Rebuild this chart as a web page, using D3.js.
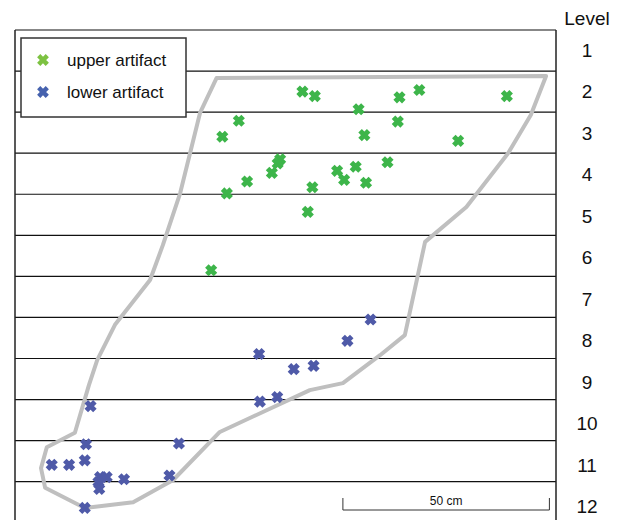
<!DOCTYPE html>
<html>
<head>
<meta charset="utf-8">
<script src="https://cdn.jsdelivr.net/npm/d3@7"></script>
<style>
  html, body { margin: 0; padding: 0; background: #fff; }
  svg { display: block; font-family: "Liberation Sans", Arial, Helvetica, sans-serif; }
</style>
</head>
<body>
<svg id="chart" width="623" height="520"></svg>
<script>
// ---- data (x in cm from the left frame edge, y in level units from top) ----
const levels = [1, 2, 3, 4, 5, 6, 7, 8, 9, 10, 11, 12];
const seriesNames = ["upper artifact", "lower artifact"];

const upperX = [69.6, 72.6, 54.2, 50.2, 83.2, 93.1, 97.9, 119.1, 92.7, 84.6, 107.3, 64.2,
                63.6, 62.2, 56.2, 51.3, 72.0, 78.0, 79.7, 82.5, 85.0, 90.2, 70.9, 47.5];
const upperY = [1.50, 1.61, 2.21, 2.60, 1.93, 1.64, 1.46, 1.61, 2.23, 2.56, 2.70, 3.15,
                3.25, 3.48, 3.69, 3.98, 3.83, 3.43, 3.65, 3.33, 3.72, 3.22, 4.43, 5.85];

const lowerX = [86.1, 80.5, 59.1, 72.3, 67.5, 59.3, 63.5, 18.3, 17.2, 39.7, 8.9, 13.1,
                16.9, 20.6, 22.2, 20.2, 20.4, 26.4, 37.4, 16.9];
const lowerY = [7.05, 7.57, 7.89, 8.18, 8.26, 9.05, 8.94, 9.16, 10.09, 10.07, 10.59, 10.59,
                10.48, 10.89, 10.89, 11.01, 11.18, 10.94, 10.85, 11.64];

// outline of the pit feature
const outlineX = [48.8, 128.6, 124.9, 119.4, 109.3, 99.3, 94.4, 88.4, 79.4, 71.4, 49.6, 38.3,
                  28.6, 16.9, 7.3, 6.3, 7.7, 14.5, 17.9, 19.9, 24.2, 32.7, 35.8, 40.0, 44.8];
const outlineY = [1.17, 1.12, 2.07, 3.00, 4.31, 5.16, 7.43, 7.92, 8.60, 8.77, 9.79, 10.96,
                  11.50, 11.64, 11.15, 10.67, 10.16, 9.81, 8.65, 8.04, 7.18, 6.09, 5.24, 3.97, 2.02];

const scaleBarCm = [79.4, 129.4];
const scaleBarLabel = "50 cm";

// ---- layout ----
const svg = d3.select("#chart");
const x = d3.scaleLinear().domain([0, 131]).range([15, 556]);
const y = d3.scaleLinear().domain([0, 12]).range([30, 30 + 12 * 41.06]);
const yLabel = d3.scaleLinear().domain([1, 12]).range([50, 506.5]);

const colors = { upper: "#3db54a", lower: "#4f5aa8" };
const legendColors = { upper: "#7dc242", lower: "#4662ae" };

// horizontal level boundaries
svg.append("g").selectAll("line")
  .data(d3.range(0, 12))
  .join("line")
  .attr("x1", x(0)).attr("x2", x(131))
  .attr("y1", d => y(d)).attr("y2", d => y(d))
  .attr("stroke", "#111").attr("stroke-width", 1.2);

// vertical frame lines
svg.append("line").attr("x1", x(0)).attr("x2", x(0)).attr("y1", y(0)).attr("y2", 520)
  .attr("stroke", "#222").attr("stroke-width", 1.5);
svg.append("line").attr("x1", x(131)).attr("x2", x(131)).attr("y1", y(0)).attr("y2", 520)
  .attr("stroke", "#222").attr("stroke-width", 1.5);

// outline polygon
const outline = outlineX.map((d, i) => [x(d), y(outlineY[i])]);
svg.append("path")
  .attr("d", d3.line()(outline) + "Z")
  .attr("fill", "none")
  .attr("stroke", "#bfbfbf")
  .attr("stroke-width", 4)
  .attr("stroke-linejoin", "round");

// markers
const xMark = "M-4.3,-4.3L4.3,4.3M-4.3,4.3L4.3,-4.3";
function drawMarkers(xs, ys, color) {
  svg.append("g").selectAll("path")
    .data(xs.map((d, i) => [d, ys[i]]))
    .join("path")
    .attr("transform", d => `translate(${x(d[0])},${y(d[1])})`)
    .attr("d", xMark)
    .attr("stroke", color)
    .attr("stroke-width", 5)
    .attr("fill", "none");
}
drawMarkers(upperX, upperY, colors.upper);
drawMarkers(lowerX, lowerY, colors.lower);

// level labels
svg.append("text").attr("x", 587).attr("y", 18.5)
  .attr("text-anchor", "middle").attr("dominant-baseline", "central")
  .attr("font-size", 19).attr("fill", "#111").text("Level");
svg.append("g").selectAll("text")
  .data(levels)
  .join("text")
  .attr("x", 587).attr("y", d => yLabel(d))
  .attr("text-anchor", "middle").attr("dominant-baseline", "central")
  .attr("font-size", 19).attr("fill", "#111")
  .text(d => d);

// scale bar
const sbY = 510;
const sb = svg.append("g").attr("stroke", "#333").attr("stroke-width", 1);
sb.append("line").attr("x1", x(scaleBarCm[0])).attr("x2", x(scaleBarCm[1])).attr("y1", sbY).attr("y2", sbY);
sb.append("line").attr("x1", x(scaleBarCm[0])).attr("x2", x(scaleBarCm[0])).attr("y1", sbY - 12).attr("y2", sbY);
sb.append("line").attr("x1", x(scaleBarCm[1])).attr("x2", x(scaleBarCm[1])).attr("y1", sbY - 12).attr("y2", sbY);
svg.append("text").attr("x", (x(scaleBarCm[0]) + x(scaleBarCm[1])) / 2).attr("y", 505)
  .attr("text-anchor", "middle").attr("font-size", 12).attr("fill", "#111").text(scaleBarLabel);

// legend
const lg = svg.append("g");
lg.append("rect").attr("x", 21).attr("y", 38).attr("width", 165).attr("height", 79)
  .attr("fill", "#fff").attr("stroke", "#333").attr("stroke-width", 1.5);
[["upper", 60], ["lower", 92]].forEach(([k, yy], i) => {
  lg.append("path").attr("transform", `translate(43,${yy})`).attr("d", xMark)
    .attr("stroke", legendColors[k]).attr("stroke-width", 4.5).attr("fill", "none");
  lg.append("text").attr("x", 67).attr("y", yy).attr("dominant-baseline", "central")
    .attr("font-size", 17).attr("fill", "#111").text(seriesNames[i]);
});
</script>
</body>
</html>
